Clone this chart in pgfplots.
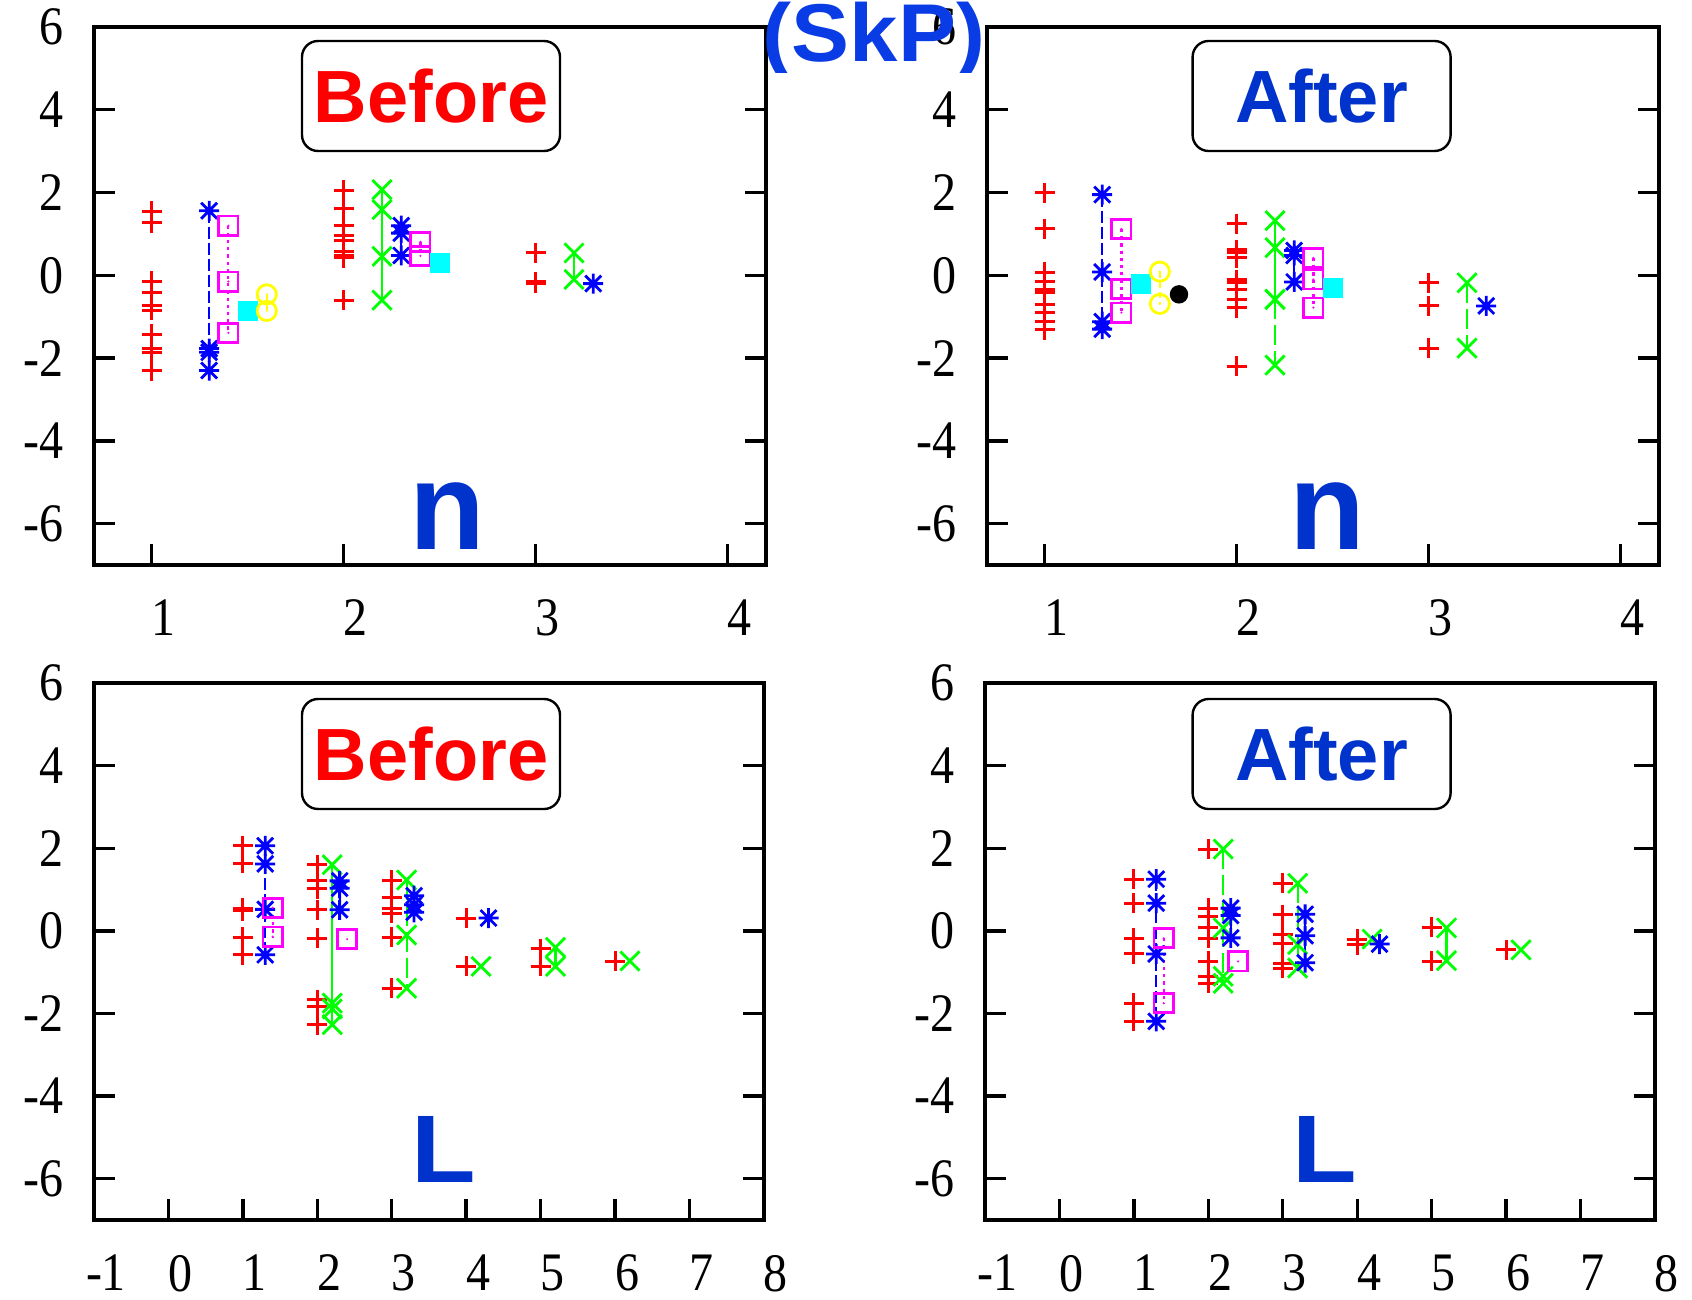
\documentclass[border=0pt]{standalone}
\usepackage{fontspec}
\setmainfont{Liberation Serif}
\newfontfamily\hel{Liberation Sans}
\usepackage{graphicx}
\usepackage{pgfplots}
\pgfplotsset{compat=1.18}
\definecolor{dblue}{RGB}{0,51,204}
\definecolor{sblue}{RGB}{10,60,230}
\definecolor{gpred}{RGB}{255,0,0}
\definecolor{gpgreen}{RGB}{0,255,0}
\definecolor{gpblue}{RGB}{0,0,255}
\definecolor{gpmag}{RGB}{255,0,255}
\definecolor{gpcyan}{RGB}{0,255,255}
\definecolor{gpyel}{RGB}{255,255,0}
\pgfdeclareplotmark{gstar}{%
  \pgfpathmoveto{\pgfqpoint{-\pgfplotmarksize}{0pt}}\pgfpathlineto{\pgfqpoint{\pgfplotmarksize}{0pt}}%
  \pgfpathmoveto{\pgfqpoint{0pt}{-\pgfplotmarksize}}\pgfpathlineto{\pgfqpoint{0pt}{\pgfplotmarksize}}%
  \pgfpathmoveto{\pgfqpoint{-.8\pgfplotmarksize}{-.8\pgfplotmarksize}}\pgfpathlineto{\pgfqpoint{.8\pgfplotmarksize}{.8\pgfplotmarksize}}%
  \pgfpathmoveto{\pgfqpoint{-.8\pgfplotmarksize}{.8\pgfplotmarksize}}\pgfpathlineto{\pgfqpoint{.8\pgfplotmarksize}{-.8\pgfplotmarksize}}%
  \pgfusepathqstroke}
\pgfdeclareplotmark{gx}{%
  \pgfpathmoveto{\pgfqpoint{-\pgfplotmarksize}{-\pgfplotmarksize}}\pgfpathlineto{\pgfqpoint{\pgfplotmarksize}{\pgfplotmarksize}}%
  \pgfpathmoveto{\pgfqpoint{-\pgfplotmarksize}{\pgfplotmarksize}}\pgfpathlineto{\pgfqpoint{\pgfplotmarksize}{-\pgfplotmarksize}}%
  \pgfusepathqstroke}
\pgfdeclareplotmark{boxdot}{%
  \pgfpathrectangle{\pgfqpoint{-\pgfplotmarksize}{-\pgfplotmarksize}}{\pgfqpoint{2\pgfplotmarksize}{2\pgfplotmarksize}}%
  \pgfusepathqstroke
  \pgfpathcircle{\pgfpointorigin}{0.3pt}\pgfusepathqfill}
\pgfdeclareplotmark{circdot}{%
  \pgfpathcircle{\pgfpointorigin}{\pgfplotmarksize}\pgfusepathqstroke
  \pgfpathcircle{\pgfpointorigin}{0.3pt}\pgfusepathqfill}
\newcommand{\tl}[1]{\scalebox{1}[1.13]{#1}}
\pgfplotsset{
  panel/.style={scale only axis, ymin=-7, ymax=6, ytick={-6,-4,-2,0,2,4,6},
    yticklabels={\tl{-6},\tl{-4},\tl{-2},\tl{0},\tl{2},\tl{4},\tl{6}},
    axis line style={line width=1pt}, every tick/.style={black, line width=0.85pt},
    major tick length=5.2pt, tick align=inside, xtick pos=left, ytick pos=both,
    tick label style={font=\fontsize{12}{12}\selectfont},
    yticklabel style={xshift=-4pt}, xticklabel style={yshift=-5.2pt, xshift=3pt},
    anchor=south west},
  toppanel/.style={panel, width=168pt, height=134.5pt, xmin=0.7, xmax=4.2, xtick={1,2,3,4},
    xticklabels={\tl{1},\tl{2},\tl{3},\tl{4}}},
  botpanel/.style={panel, width=167.5pt, height=134.25pt, xmin=-1, xmax=8, xtick={-1,0,...,8},
    xticklabels={\tl{-1},\tl{0},\tl{1},\tl{2},\tl{3},\tl{4},\tl{5},\tl{6},\tl{7},\tl{8}}},
  rp/.style={only marks, color=gpred, mark=+, mark size=2.5pt, mark options={line width=0.75pt}},
  gp/.style={color=gpgreen, mark=gx, mark size=2.4pt, line width=0.55pt, mark options={solid, line width=0.7pt}},
  gd/.style={gp, dash pattern=on 5pt off 1.5pt},
  bp/.style={color=gpblue, mark=gstar, mark size=2.5pt, line width=0.55pt, mark options={solid, line width=0.7pt}},
  bd/.style={bp, dash pattern=on 3pt off 1pt},
  mp/.style={color=gpmag, mark=boxdot, mark size=2.4pt, line width=0.55pt, dash pattern=on 0.8pt off 1pt, mark options={solid, line width=0.7pt}},
  cp/.style={only marks, color=gpcyan, mark=square*, mark size=2.3pt},
  yp/.style={color=gpyel, mark=circdot, mark size=2.4pt, line width=0.55pt, dash pattern=on 1.5pt off 1pt, mark options={solid, line width=0.7pt}},
  kp/.style={only marks, color=black, mark=*, mark size=2.1pt},
}
\begin{document}
\begin{tikzpicture}
\path[use as bounding box] (0,0) rectangle (423pt,324.75pt);
% ---------------- top left: Before, n
\begin{axis}[toppanel, at={(23.5pt,183.5pt)}]
\addplot[rp] coordinates {(1,1.55)(1,1.27)(1,-0.14)(1,-0.42)(1,-0.72)(1,-0.84)(1,-1.42)(1,-1.76)(1,-1.86)(1,-2.30)
 (2,2.05)(2,1.61)(2,1.21)(2,0.96)(2,0.85)(2,0.58)(2,0.49)(2,0.42)(2,-0.6)
 (3,0.55)(3,-0.15)(3,-0.19)};
\addplot[gp] coordinates {(2.2,2.07)(2.2,1.59)(2.2,0.46)(2.2,-0.6)};
\addplot[gp] coordinates {(3.2,0.54)(3.2,-0.1)};
\addplot[bd] coordinates {(1.3,1.56)(1.3,-1.77)(1.3,-1.86)(1.3,-2.30)};
\addplot[bp] coordinates {(2.3,1.2)(2.3,1.02)(2.3,0.48)};
\addplot[bp] coordinates {(3.3,-0.2)};
\addplot[mp] coordinates {(1.4,1.2)(1.4,-0.15)(1.4,-1.39)};
\addplot[mp] coordinates {(2.4,0.81)(2.4,0.47)};
\addplot[cp] coordinates {(1.5,-0.865)(2.5,0.305)};
\addplot[yp] coordinates {(1.6,-0.46)(1.6,-0.86)};
\end{axis}
% ---------------- top right: After, n
\begin{axis}[toppanel, at={(246.75pt,183.5pt)}]
\addplot[rp] coordinates {(1,1.99)(1,1.12)(1,0.08)(1,-0.16)(1,-0.35)(1,-0.42)(1,-0.7)(1,-0.91)(1,-1.12)(1,-1.32)
 (2,1.25)(2,0.62)(2,0.56)(2,0.42)(2,-0.11)(2,-0.18)(2,-0.34)(2,-0.58)(2,-0.78)(2,-2.2)
 (3,-0.18)(3,-0.74)(3,-1.76)};
\addplot[gp] coordinates {(2.2,1.32)(2.2,0.67)(2.2,-0.58)};
\addplot[gd] coordinates {(2.2,-0.58)(2.2,-2.17)};
\addplot[gd] coordinates {(3.2,-0.18)(3.2,-1.76)};
\addplot[bd] coordinates {(1.3,1.95)(1.3,0.08)(1.3,-1.12)(1.3,-1.3)};
\addplot[bp] coordinates {(2.3,0.6)(2.3,0.48)(2.3,-0.16)};
\addplot[bp] coordinates {(3.3,-0.74)};
\addplot[mp] coordinates {(1.4,1.12)(1.4,-0.33)(1.4,-0.9)};
\addplot[mp] coordinates {(2.4,0.42)(2.4,-0.1)(2.4,-0.78)};
\addplot[cp] coordinates {(1.5,-0.2)(2.5,-0.31)};
\addplot[yp] coordinates {(1.6,0.09)(1.6,-0.69)};
\addplot[kp] coordinates {(1.7,-0.46)};
\end{axis}
% ---------------- bottom left: Before, L
\begin{axis}[botpanel, at={(23.5pt,19.75pt)}]
\addplot[rp] coordinates {(1,2.06)(1,1.64)(1,0.55)(1,0.49)(1,-0.15)(1,-0.58)
 (2,1.6)(2,1.23)(2,1.02)(2,0.51)(2,-0.18)(2,-1.67)(2,-1.83)(2,-2.27)
 (3,1.23)(3,0.81)(3,0.55)(3,0.43)(3,-0.15)(3,-1.39)
 (4,0.31)(4,-0.86)(5,-0.43)(5,-0.86)(6,-0.73)};
\addplot[gp] coordinates {(2.2,1.6)(2.2,-1.75)(2.2,-1.89)(2.2,-2.27)};
\addplot[gd] coordinates {(3.2,1.23)(3.2,-0.1)(3.2,-1.39)};
\addplot[gp] coordinates {(4.2,-0.86)};
\addplot[gp] coordinates {(5.2,-0.4)(5.2,-0.86)};
\addplot[gp] coordinates {(6.2,-0.73)};
\addplot[bd] coordinates {(1.3,2.06)(1.3,1.62)(1.3,0.52)(1.3,-0.58)};
\addplot[bp] coordinates {(2.3,1.21)(2.3,1.03)(2.3,0.51)};
\addplot[bp] coordinates {(3.3,0.85)(3.3,0.63)(3.3,0.45)};
\addplot[bp] coordinates {(4.3,0.31)};
\addplot[mp] coordinates {(1.4,0.56)(1.4,-0.14)};
\addplot[mp] coordinates {(2.4,-0.2)};
\end{axis}
% ---------------- bottom right: After, L
\begin{axis}[botpanel, at={(246.25pt,19.75pt)}]
\addplot[rp] coordinates {(1,1.25)(1,0.67)(1,-0.18)(1,-0.56)(1,-1.75)(1,-2.19)
 (2,1.98)(2,0.55)(2,0.35)(2,0.07)(2,-0.18)(2,-0.74)(2,-1.1)(2,-1.27)
 (3,1.15)(3,0.39)(3,-0.1)(3,-0.31)(3,-0.78)(3,-0.9)
 (4,-0.2)(4,-0.34)(5,0.09)(5,-0.74)(6,-0.46)};
\addplot[gd] coordinates {(2.2,1.98)(2.2,0.07)(2.2,-1.1)(2.2,-1.27)};
\addplot[gd] coordinates {(3.2,1.15)(3.2,-0.33)(3.2,-0.9)};
\addplot[gp] coordinates {(4.2,-0.2)};
\addplot[gp] coordinates {(5.2,0.07)(5.2,-0.72)};
\addplot[gp] coordinates {(6.2,-0.46)};
\addplot[bd] coordinates {(1.3,1.25)(1.3,0.67)(1.3,-0.56)(1.3,-2.19)};
\addplot[bp] coordinates {(2.3,0.55)(2.3,0.37)(2.3,-0.17)};
\addplot[bd] coordinates {(3.3,0.4)(3.3,-0.12)(3.3,-0.77)};
\addplot[bp] coordinates {(4.3,-0.32)};
\addplot[mp] coordinates {(1.4,-0.18)(1.4,-1.75)};
\addplot[mp] coordinates {(2.4,-0.74)};
\end{axis}
% ---------------- labels
\tikzset{lbox/.style={draw=black, line width=0.6pt, rounded corners=4pt, fill=white,
  minimum width=64.5pt, minimum height=27.5pt, inner sep=0pt,
  font=\hel\bfseries\fontsize{18.5}{18.5}\selectfont}}
\node[lbox, text=gpred] at (107.75pt,300.75pt) {Before};
\node[lbox, text=dblue] at (330.4pt,300.75pt) {After};
\node[lbox, text=gpred] at (107.75pt,136.25pt) {Before};
\node[lbox, text=dblue] at (330.4pt,136.25pt) {After};
\node[text=dblue, inner sep=0pt, font=\hel\bfseries\fontsize{31}{31}\selectfont] at (111.75pt,195.75pt) {n};
\node[text=dblue, inner sep=0pt, font=\hel\bfseries\fontsize{31}{31}\selectfont] at (331.75pt,195.75pt) {n};
\node[text=dblue, inner sep=0pt, font=\hel\bfseries\fontsize{24}{24}\selectfont] at (110.9pt,37.5pt) {\scalebox{1.1}[1]{L}};
\node[text=dblue, inner sep=0pt, font=\hel\bfseries\fontsize{24}{24}\selectfont] at (331.25pt,37.5pt) {\scalebox{1.1}[1]{L}};
\begin{scope}
\clip (150pt,306.5pt) rectangle (290pt,330pt);
\node[anchor=base, text=sblue, inner sep=0pt, font=\hel\bfseries\fontsize{20.5}{20.5}\selectfont] at (218.5pt,309.25pt) {\scalebox{1.06}[1]{(SkP)}};
\end{scope}
\end{tikzpicture}
\end{document}
